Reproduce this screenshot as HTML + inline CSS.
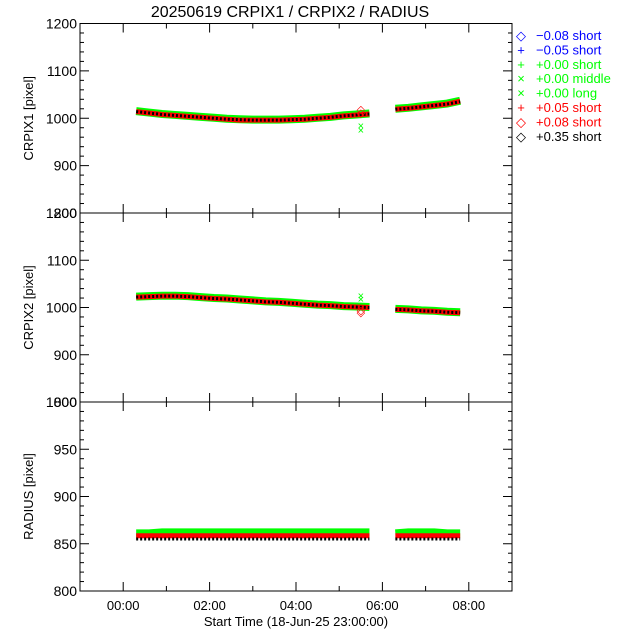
<!DOCTYPE html>
<html><head><meta charset="utf-8"><style>
html,body{margin:0;padding:0;background:#fff;}
svg{display:block;font-family:"Liberation Sans","DejaVu Sans",sans-serif;}
</style></head><body>
<svg id="c" width="640" height="640" viewBox="0 0 640 640">
<text x="290" y="17" font-size="16" text-anchor="middle">20250619 CRPIX1 / CRPIX2 / RADIUS</text>
<g id="legend"></g>
</svg>
<script>
const timesH = [0.3,0.6,0.9,1.2,1.5,1.8,2.1,2.4,2.7,3.0,3.3,3.6,3.9,4.2,4.5,4.8,5.1,5.4,5.7, 6.3,6.6,6.9,7.2,7.5,7.8];
const crpix1Black = [1014,1011,1008,1006,1004,1002,1000,998,997,996,996,996,997,998,1000,1002,1005,1007,1009, 1019,1021,1024,1027,1030,1035];
const crpix1Red   = [1014,1011,1008,1006,1004,1002,1000,998,996,996,996,996,997,998,1000,1002,1005,1007,1009, 1019,1021,1024,1027,1030,1036];
const crpix1Green = [1015,1012,1009,1007,1005,1003,1001,999,998,997,997,997,998,999,1001,1003,1006,1008,1010, 1020,1022,1025,1028,1031,1037];
const crpix2Black = [1022,1023,1024,1024,1023,1021,1019,1018,1016,1014,1012,1011,1009,1007,1005,1004,1002,1001,1000, 996,995,993,992,990,989];
const crpix2Red   = [1022,1023,1024,1024,1023,1021,1019,1018,1016,1014,1012,1011,1009,1007,1005,1004,1002,1001,1000, 996,995,993,992,990,989];
const crpix2Green = [1023,1024,1025,1025,1024,1022,1020,1019,1017,1015,1013,1012,1010,1008,1006,1005,1003,1002,1001, 997,996,994,993,991,990];
const radiusBlack = [855,855,855,855,855,855,855,855,855,855,855,855,855,855,855,855,855,855,855, 855,855,855,855,855,855];
const radiusRed   = [858.5,858.5,858.5,858.5,858.5,858.5,858.5,858.5,858.5,858.5,858.5,858.5,858.5,858.5,858.5,858.5,858.5,858.5,858.5, 858.5,858.5,858.5,858.5,858.5,858.5];
const radiusGreen = [861,861,862,862,862,862,862,862,862,862,862,862,862,862,862,862,862,862,862, 861,862,862,862,861,861];
const outlierTimes = [5.5,5.5,5.5,5.5];
const crpix1Outliers = [975,985,1020,1012];
const crpix2Outliers = [1025,1018,990,995];
const xTickLabels = ["00:00","02:00","04:00","06:00","08:00"];
const xTickHours = [0,2,4,6,8];
const legendLabels = ["\u22120.08 short","\u22120.05 short","+0.00 short","+0.00 middle","+0.00 long","+0.05 short","+0.08 short","+0.35 short"];
const legendSymbols = ["\u25C7","+","+","\u00D7","\u00D7","+","\u25C7","\u25C7"];
const legendColors = ["#0000ff","#0000ff","#00ff00","#00ff00","#00ff00","#ff0000","#ff0000","#000000"];

const NS="http://www.w3.org/2000/svg";
const svg=document.getElementById('c');
const X0=80,X1=512;
const xs=h=>X0+(h+1)/10*(X1-X0);
function mk(t,a,p){const e=document.createElementNS(NS,t);for(const k in a)e.setAttribute(k,a[k]);(p||svg).appendChild(e);return e;}

const panels=[
 {name:'crpix1',top:23.5,bot:213,min:800,max:1200,major:100,minor:20,label:'CRPIX1 [pixel]',series:[crpix1Green,crpix1Red,crpix1Black],out:crpix1Outliers},
 {name:'crpix2',top:213,bot:402,min:800,max:1200,major:100,minor:20,label:'CRPIX2 [pixel]',series:[crpix2Green,crpix2Red,crpix2Black],out:crpix2Outliers},
 {name:'radius',top:402,bot:591,min:800,max:1000,major:50,minor:10,label:'RADIUS [pixel]',series:[radiusGreen,radiusRed,radiusBlack],out:null}
];
const styles=[{c:'#00ff00',w:8,d:''},{c:'#ff0000',w:5,d:''},{c:'#000000',w:3,d:'2,2'}];

panels.forEach((p,pi)=>{
 const ys=v=>p.bot-(v-p.min)/(p.max-p.min)*(p.bot-p.top);
 const g=mk('g',{});
 
 
 const fr=mk('rect',{x:X0,y:p.top,width:X1-X0,height:p.bot-p.top,fill:'none',stroke:'#000','stroke-width':1},g);
 
 
 for(let v=p.min;v<=p.max+1e-6;v+=p.minor){
  const isMaj=Math.abs((v-p.min)%p.major)<1e-6;
  const L=isMaj?9:4,y=ys(v);
  mk('line',{x1:X0,y1:y,x2:X0+L,y2:y,stroke:'#000'},g);
  mk('line',{x1:X1,y1:y,x2:X1-L,y2:y,stroke:'#000'},g);
  if(isMaj){const t=mk('text',{x:X0-3,y:y+5,'font-size':14,'text-anchor':'end'},g);t.textContent=v;
   
   }
 }
 for(let h=0;h<=8;h++){
  const x=xs(h),L=h%2===0?9:5;
  mk('line',{x1:x,y1:p.bot,x2:x,y2:p.bot-L,stroke:'#000'},g);
  mk('line',{x1:x,y1:p.top,x2:x,y2:p.top+L,stroke:'#000'},g);
 }
 const yl=mk('text',{x:0,y:0,'font-size':13,'text-anchor':'middle',transform:`translate(33,${(p.top+p.bot)/2}) rotate(-90)`},g);
 yl.textContent=p.label;
 
 
 p.series.forEach((arr,si)=>{
  const st=styles[si];
  [[0,19],[19,25]].forEach(([a,b])=>{
   const pts=[];for(let i=a;i<b;i++)pts.push(xs(timesH[i])+','+ys(arr[i]));
   const pl=mk('polyline',{points:pts.join(' '),fill:'none',stroke:st.c,'stroke-width':st.w,'stroke-dasharray':st.d},g);
   
   
  });
 });
 if(p.out){p.out.forEach((v,i)=>{
  const x=xs(outlierTimes[i]),y=ys(v),c=i<2?'#00ff00':'#ff0000';
  const t=mk('text',{x:x,y:y+4,'font-size':11,'text-anchor':'middle',fill:c},g);
  t.textContent=i<2?'\u00D7':'\u25C7';
  
  
 });}
 if(pi===2){
  xTickHours.forEach((h,i)=>{const t=mk('text',{x:xs(h),y:610,'font-size':13,'text-anchor':'middle'},g);t.textContent=xTickLabels[i];
   
   });
  const xt=mk('text',{x:296,y:626,'font-size':13,'text-anchor':'middle'},g);
  xt.textContent='Start Time (18-Jun-25 23:00:00)';
  
  
 }
});
const lg=document.getElementById('legend');
legendLabels.forEach((l,i)=>{
 const y=40+i*14.4;
 const s=mk('text',{x:521,y:y,'font-size':13,'text-anchor':'middle',fill:legendColors[i]},lg);
 s.textContent=legendSymbols[i];
 
 
 const t=mk('text',{x:536,y:y,'font-size':13,fill:legendColors[i]},lg);
 t.textContent=l;
 
 
});
</script>
</body></html>
